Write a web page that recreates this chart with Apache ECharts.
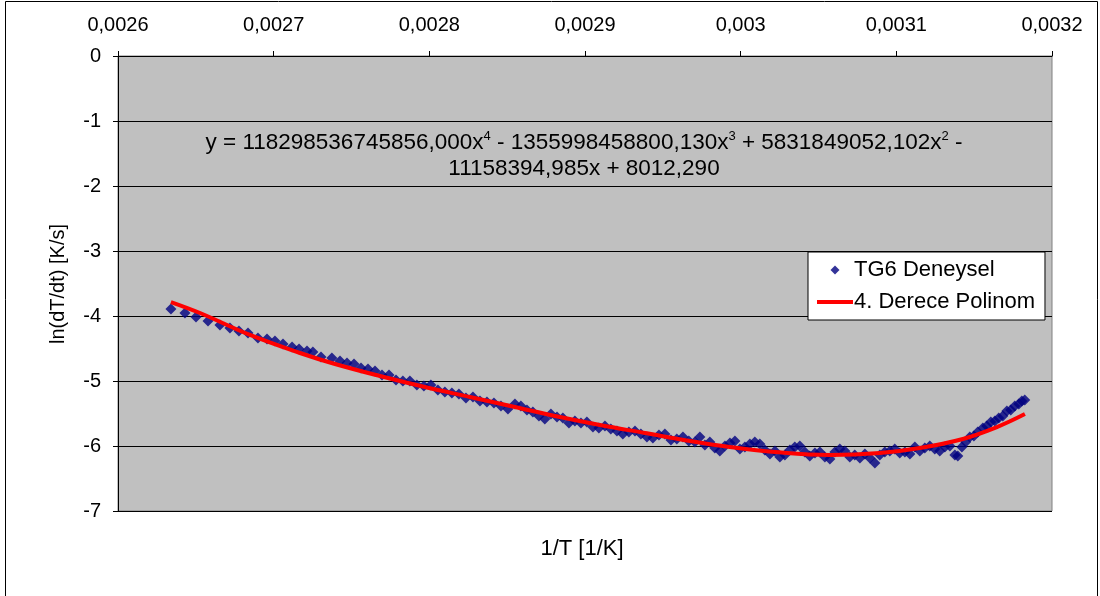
<!DOCTYPE html>
<html lang="tr">
<head>
  <meta charset="UTF-8">
  <title>TG6</title>
  <script src="https://cdn.jsdelivr.net/npm/echarts@6/dist/echarts.min.js"></script>
  <style>
    html, body { margin: 0; padding: 0; background: #fff; }
    #main { width: 1100px; height: 596px; }
  </style>
</head>
<body>

<div id="main"></div>

<script>
  // deney noktalari: 1/T [1/K]
  var expX = [
    0.0026340, 0.0026430, 0.0026501, 0.0026578, 0.0026655, 0.0026719, 0.0026777, 0.0026835, 0.0026899, 0.0026957,
    0.0027008, 0.0027060, 0.0027118, 0.0027163, 0.0027214, 0.0027252, 0.0027304, 0.0027374,
    0.0027426, 0.0027471, 0.0027516, 0.0027561, 0.0027606, 0.0027651, 0.0027696, 0.0027741, 0.0027786, 0.0027830,
    0.0027875, 0.0027920, 0.0027965, 0.0028010, 0.0028055, 0.0028100, 0.0028145, 0.0028190, 0.0028235, 0.0028280,
    0.0028325, 0.0028370, 0.0028415, 0.0028460, 0.0028505, 0.0028550,
    0.0028588, 0.0028627, 0.0028665, 0.0028704, 0.0028742, 0.0028781, 0.0028820, 0.0028858, 0.0028897, 0.0028935,
    0.0028974, 0.0029012, 0.0029051, 0.0029089, 0.0029128, 0.0029166, 0.0029205, 0.0029243, 0.0029282, 0.0029321,
    0.0029359, 0.0029398, 0.0029436, 0.0029475, 0.0029513, 0.0029552, 0.0029590, 0.0029629, 0.0029667, 0.0029706,
    0.0029738, 0.0029770, 0.0029802, 0.0029834, 0.0029866, 0.0029899, 0.0029931, 0.0029963, 0.0029995, 0.0030027,
    0.0030059, 0.0030091, 0.0030123, 0.0030155, 0.0030188, 0.0030220, 0.0030252, 0.0030284, 0.0030316, 0.0030348,
    0.0030380, 0.0030412, 0.0030444, 0.0030477, 0.0030509, 0.0030541, 0.0030573, 0.0030605, 0.0030637, 0.0030669,
    0.0030701, 0.0030733, 0.0030766, 0.0030798, 0.0030830, 0.0030862, 0.0030894, 0.0030926, 0.0030958, 0.0030990,
    0.0031022,
    0.0031055, 0.0031087, 0.0031119, 0.0031151, 0.0031183, 0.0031215, 0.0031247, 0.0031279, 0.0031312, 0.0031344,
    0.0031376, 0.0031395, 0.0031421, 0.0031446, 0.0031472, 0.0031498, 0.0031523, 0.0031556, 0.0031581, 0.0031607,
    0.0031633, 0.0031658, 0.0031684, 0.0031710, 0.0031735, 0.0031761, 0.0031787, 0.0031806, 0.0031825
  ];
  // deney noktalari: ln(dT/dt) [K/s]
  var expY = [
    -3.892, -3.954, -4.015, -4.077, -4.138, -4.185, -4.231, -4.262, -4.338, -4.354,
    -4.385, -4.431, -4.477, -4.508, -4.538, -4.554, -4.631, -4.646,
    -4.692, -4.723, -4.738, -4.800, -4.815, -4.846, -4.908, -4.908, -4.985, -5.000,
    -5.000, -5.062, -5.077, -5.062, -5.138, -5.169, -5.185, -5.200, -5.262, -5.246,
    -5.308, -5.323, -5.338, -5.385, -5.431, -5.354,
    -5.385, -5.446, -5.477, -5.538, -5.585, -5.508, -5.554, -5.569, -5.646, -5.615,
    -5.646, -5.631, -5.708, -5.723, -5.692, -5.738, -5.769, -5.815, -5.785, -5.769,
    -5.815, -5.862, -5.877, -5.831, -5.815, -5.908, -5.892, -5.862, -5.923, -5.938,
    -5.862, -5.985, -5.938, -6.031, -6.077, -6.000, -5.954, -5.923, -6.046, -6.015,
    -5.969, -5.938, -5.969, -6.062, -6.123, -6.077, -6.169, -6.138, -6.062, -6.015,
    -6.000, -6.092, -6.154, -6.108, -6.092, -6.169, -6.200, -6.092, -6.046, -6.077,
    -6.169, -6.138, -6.185, -6.123, -6.185, -6.262, -6.138, -6.092, -6.077, -6.046,
    -6.108,
    -6.092, -6.123, -6.015, -6.077, -6.031, -6.000, -6.046, -6.077, -6.015, -6.000,
    -6.138, -6.154, -6.015, -5.938, -5.862, -5.846, -5.785, -5.723, -5.692, -5.631,
    -5.615, -5.569, -5.538, -5.462, -5.446, -5.385, -5.354, -5.308, -5.292
  ];

  // 4. derece polinom egrisi (resimden okunan noktalar)
  var fitX = [0.0026340, 0.0026527, 0.0026848, 0.0027169, 0.0027394, 0.0027683, 0.0027972, 0.0028261, 0.0028550,
    0.0028839, 0.0029096, 0.0029385, 0.0029674, 0.0029931, 0.0030220, 0.0030573, 0.0030894, 0.0031151,
    0.0031427, 0.0031646, 0.0031826];
  var fitY = [-3.785, -3.954, -4.292, -4.569, -4.738, -4.923, -5.092, -5.246, -5.400,
    -5.554, -5.677, -5.800, -5.923, -6.015, -6.092, -6.138, -6.108, -6.031,
    -5.892, -5.708, -5.508];

  var seriesNames = ['TG6 Deneysel', '4. Derece Polinom'];
  var equationLines = [
    'y = 118298536745856,000x{sup|4} - 1355998458800,130x{sup|3} + 5831849052,102x{sup|2} -',
    '11158394,985x + 8012,290'
  ];

  var xMin = 0.0026, xMax = 0.0032, xStep = 0.0001;
  var yMin = -7, yMax = 0, yStep = 1;

  function pairs(xs, ys) {
    var out = [];
    for (var i = 0; i < xs.length; i++) out.push([xs[i], ys[i]]);
    return out;
  }

  var font = 'Liberation Sans, Arial, sans-serif';

  var chart = echarts.init(document.getElementById('main'));
  chart.setOption({
    animation: false,
    backgroundColor: '#fff',
    textStyle: { fontFamily: font, color: '#000' },
    grid: {
      left: 118, top: 56, right: 48, bottom: 85,
      show: true,
      backgroundColor: '#C0C0C0',
      borderColor: '#808080',
      borderWidth: 1
    },
    legend: {
      orient: 'vertical',
      left: 808,
      top: 252,
      padding: [7, 10, 7, 9],
      itemGap: 10,
      itemWidth: 36,
      itemHeight: 9,
      symbolKeepAspect: true,
      backgroundColor: '#fff',
      borderColor: '#000',
      borderWidth: 1,
      textStyle: { fontFamily: font, fontSize: 22, color: '#000', padding: [0, 0, 0, -4] },
      data: [
        { name: seriesNames[0], icon: 'path://M0,-1L1,0L0,1L-1,0Z', itemStyle: { color: '#000080' } },
        { name: seriesNames[1], icon: 'path://M0,0H36V4H0Z', itemStyle: { color: '#FF0000' } }
      ]
    },
    xAxis: {
      type: 'value',
      position: 'top',
      min: xMin, max: xMax, interval: xStep,
      axisLine: { lineStyle: { color: '#000', width: 1 } },
      axisTick: { show: true, inside: false, length: 5, lineStyle: { color: '#000' } },
      axisLabel: {
        fontSize: 20, color: '#000', margin: 21,
        formatter: function (v) { return String(+v.toFixed(4)).replace('.', ','); }
      },
      splitLine: { show: false }
    },
    yAxis: {
      type: 'value',
      min: yMin, max: yMax, interval: yStep,
      axisLine: { show: true, lineStyle: { color: '#000', width: 1 } },
      axisTick: { show: true, inside: false, length: 5, lineStyle: { color: '#000' } },
      axisLabel: { fontSize: 20, color: '#000', margin: 17 },
      splitLine: { show: true, lineStyle: { color: '#000', width: 1 } }
    },
    series: [
      {
        name: seriesNames[0],
        type: 'scatter',
        symbol: 'diamond',
        symbolSize: 11,
        itemStyle: { color: '#000080' },
        data: pairs(expX, expY),
        z: 2
      },
      {
        name: seriesNames[1],
        type: 'line',
        smooth: 0.4,
        symbol: 'none',
        lineStyle: { color: '#FF0000', width: 4 },
        itemStyle: { color: '#FF0000' },
        data: pairs(fitX, fitY),
        z: 3
      }
    ],
    graphic: [
      {
        type: 'rect',
        shape: { x: 5.5, y: 1.5, width: 1092, height: 620 },
        style: { fill: 'none', stroke: '#000', lineWidth: 1 },
        silent: true
      },
      {
        type: 'text',
        x: 584, y: 130,
        style: {
          text: equationLines.join('\n'),
          font: '22.5px ' + font,
          fill: '#000',
          align: 'center',
          lineHeight: 26,
          rich: { sup: { fontSize: 13, verticalAlign: 'top', lineHeight: 26, padding: [0, 0, 9, 0] } }
        },
        z: 10
      },
      {
        type: 'text',
        x: 582, y: 549,
        style: { text: '1/T [1/K]', font: '22px ' + font, fill: '#000', align: 'center', verticalAlign: 'middle' }
      },
      {
        type: 'text',
        x: 58, y: 284,
        rotation: Math.PI / 2,
        style: { text: 'ln(dT/dt) [K/s]', font: '20px ' + font, fill: '#000', align: 'center', verticalAlign: 'middle' }
      }
    ]
  });
</script>
</body>
</html>
